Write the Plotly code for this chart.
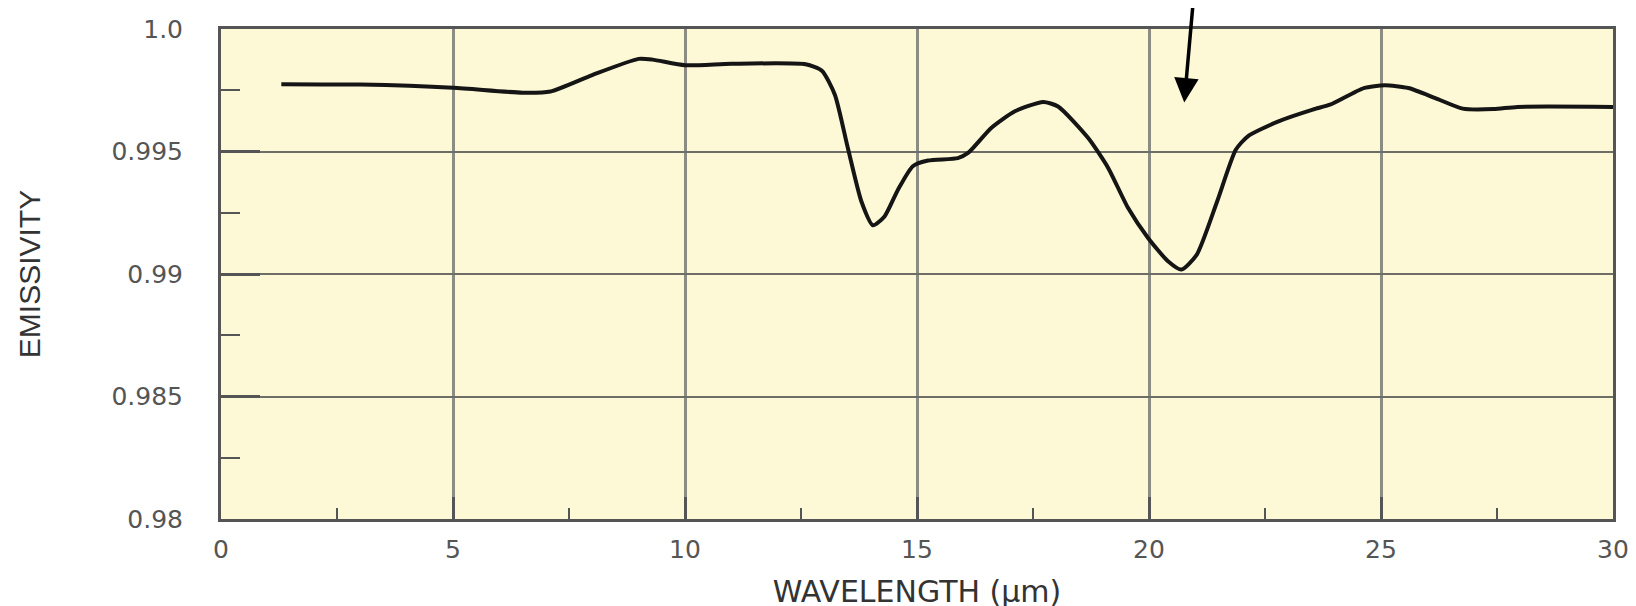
import plotly.graph_objects as go

# ---- data ----
wavelength = [1.3, 3.0, 5.0, 6.5, 7.1, 8.0, 9.0, 9.3, 10.0, 11.0, 12.6, 12.95,
              13.23, 13.51, 13.80, 14.05, 14.30, 14.59, 14.91, 15.24, 15.88,
              16.10, 16.60, 17.11, 17.72, 18.04, 18.69, 19.12, 19.55, 19.98,
              20.41, 20.70, 21.03, 21.47, 21.87, 22.13, 22.79, 23.53, 23.90,
              24.63, 25.08, 25.59, 26.17, 26.76, 27.43, 27.94, 30.0]
emissivity = [0.99775, 0.99773, 0.99760, 0.99740, 0.99745, 0.99812, 0.99878,
              0.99875, 0.99852, 0.99858, 0.99856, 0.99830, 0.99732, 0.99514,
              0.99297, 0.99199, 0.99235, 0.99344, 0.99440, 0.99463, 0.99473,
              0.99494, 0.99596, 0.99664, 0.99702, 0.99684, 0.99555, 0.99433,
              0.99269, 0.99147, 0.99052, 0.99018, 0.99079, 0.99297, 0.99507,
              0.99562, 0.99623, 0.99671, 0.99691, 0.99759, 0.99770, 0.99759,
              0.99718, 0.99675, 0.99673, 0.99682, 0.99682]

x_tickvals = [0, 5, 10, 15, 20, 25, 30]
x_ticktext = ["0", "5", "10", "15", "20", "25", "30"]
y_tickvals = [1.0, 0.995, 0.99, 0.985, 0.98]
y_ticktext = ["1.0", "0.995", "0.99", "0.985", "0.98"]

arrow_tip = (20.76, 0.99700)
arrow_tail = (20.95, 1.00106)

fig = go.Figure()
fig.add_trace(go.Scatter(
    x=wavelength, y=emissivity, mode="lines",
    line=dict(color="#151515", width=4, shape="spline", smoothing=0.6),
    hoverinfo="skip", showlegend=False,
))

fig.add_annotation(
    x=arrow_tip[0], y=arrow_tip[1], ax=arrow_tail[0], ay=arrow_tail[1],
    xref="x", yref="y", axref="x", ayref="y",
    showarrow=True, arrowhead=2, arrowsize=1.4, arrowwidth=3.5,
    arrowcolor="#000000", standoff=0, text="",
)

tick_font = dict(family="DejaVu Sans", size=25, color="#555555")

fig.update_layout(
    width=1636, height=606,
    margin=dict(l=213, r=31, t=21, b=95),
    paper_bgcolor="#ffffff",
    plot_bgcolor="#FDF8D5",
    showlegend=False,
    xaxis=dict(
        range=[0, 30], tickvals=x_tickvals, ticktext=x_ticktext,
        showgrid=True, gridcolor="#8c8c82", gridwidth=2.5,
        showline=True, linecolor="#555555", linewidth=3, mirror=True,
        ticks="inside", ticklen=22, tickwidth=2.5, tickcolor="#555555",
        minor=dict(ticks="inside", ticklen=11, tickwidth=2, tickcolor="#555555",
                   dtick=2.5, showgrid=False),
        tickfont=tick_font, ticklabelstandoff=6,
        zeroline=False, fixedrange=True,
        title=dict(text="WAVELENGTH (µm)",
                   font=dict(family="DejaVu Sans", size=30, color="#333333"),
                   standoff=18),
        automargin=False,
    ),
    yaxis=dict(
        range=[0.98, 1.0], tickvals=y_tickvals, ticktext=y_ticktext,
        showgrid=True, gridcolor="#6e6e66", gridwidth=1.5,
        showline=True, linecolor="#555555", linewidth=3, mirror=True,
        ticks="inside", ticklen=39, tickwidth=2.5, tickcolor="#555555",
        minor=dict(ticks="inside", ticklen=19, tickwidth=2, tickcolor="#555555",
                   dtick=0.0025, showgrid=False),
        tickfont=tick_font, ticklabelstandoff=30,
        zeroline=False, fixedrange=True,
        title=dict(text="EMISSIVITY",
                   font=dict(family="Liberation Sans", size=30, color="#333333"),
                   standoff=62),
        automargin=False,
    ),
)

fig.write_html("out.html", config={"displayModeBar": False})
